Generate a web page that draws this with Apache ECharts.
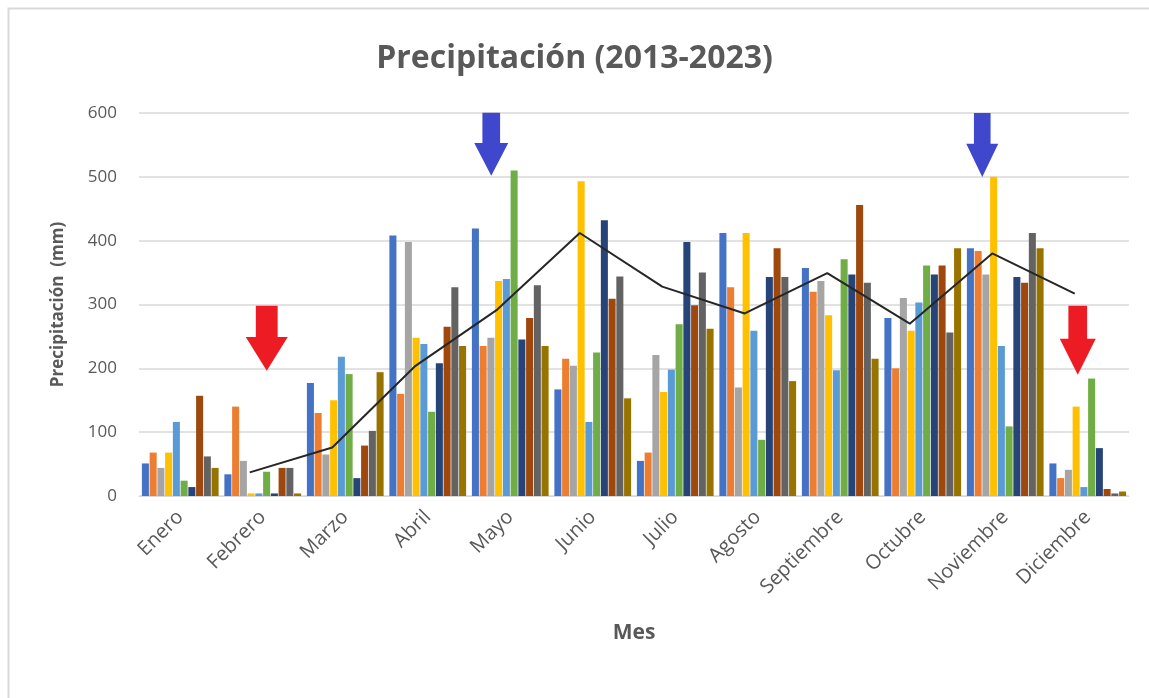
<!DOCTYPE html>
<html>
<head>
<meta charset="utf-8">
<script src="https://cdn.jsdelivr.net/npm/echarts@6/dist/echarts.min.js"></script>
<style>
  html, body { margin: 0; padding: 0; background: #fff; }
  #chart { width: 1149px; height: 698px; }
</style>
</head>
<body>
<div id="chart"></div>
<script>
const months = ['Enero', 'Febrero', 'Marzo', 'Abril', 'Mayo', 'Junio', 'Julio', 'Agosto', 'Septiembre', 'Octubre', 'Noviembre', 'Diciembre'];
const years = ['2013', '2014', '2015', '2016', '2017', '2018', '2019', '2020', '2021', '2022'];
const colors = ['#4472C4', '#ED7D31', '#A5A5A5', '#FFC000', '#5B9BD5', '#70AD47', '#264478', '#9E480E', '#636363', '#997300'];

// precipitation per year, one value per month (mm)
const p2013 = [51, 34, 177, 408, 419, 167, 55, 412, 357, 279, 388, 51];
const p2014 = [68, 140, 130, 160, 235, 215, 68, 327, 320, 200, 384, 28];
const p2015 = [44, 55, 65, 398, 248, 204, 221, 170, 337, 310, 347, 41];
const p2016 = [68, 4, 150, 248, 337, 493, 163, 412, 283, 259, 500, 140];
const p2017 = [116, 4, 218, 238, 340, 116, 198, 259, 197, 303, 235, 14];
const p2018 = [24, 38, 191, 132, 510, 225, 269, 88, 371, 361, 109, 184];
const p2019 = [14, 4, 28, 208, 245, 432, 398, 343, 347, 347, 343, 75];
const p2020 = [157, 44, 79, 265, 279, 309, 299, 388, 456, 361, 334, 11];
const p2021 = [62, 44, 102, 327, 330, 344, 350, 343, 334, 256, 412, 4];
const p2022 = [44, 4, 194, 235, 235, 153, 262, 180, 215, 388, 388, 7];
const yearValues = [p2013, p2014, p2015, p2016, p2017, p2018, p2019, p2020, p2021, p2022];

// trend line (no point for Enero)
const trend = [null, 37, 76, 203, 292, 412, 328, 286, 349, 270, 380, 317];

const yTicks = { min: 0, max: 600, interval: 100 };

const chart = echarts.init(document.getElementById('chart'));

const textColor = '#595959';
const font = 'Liberation Sans Narrow, Open Sans, sans-serif';

const downArrow = 'path://M24,0 L76,0 L76,48 L100,48 L50,100 L0,48 L24,48 Z';

const barSeries = years.map((y, i) => ({
  name: y,
  type: 'bar',
  data: yearValues[i],
  itemStyle: { color: colors[i] },
  barGap: '10%',
  barCategoryGap: '7%'
}));

const option = {
  animation: false,
  backgroundColor: '#fff',
  title: {
    text: 'Precipitación (2013-2023)',
    left: 'center',
    top: 38,
    textStyle: { fontFamily: font, fontSize: 32, fontWeight: 'bold', color: textColor }
  },
  graphic: [{
    type: 'rect',
    shape: { x: 8.5, y: 8.5, width: 1160, height: 720 },
    style: { fill: 'none', stroke: '#d9d9d9', lineWidth: 2 },
    silent: true,
    z: -1
  }],
  grid: [
    { left: 139, right: 20, top: 113, bottom: 202 },
    { left: 126, right: 33, top: 113, bottom: 202 }
  ],
  xAxis: [{
    type: 'category',
    data: months,
    gridIndex: 0,
    name: 'Mes',
    nameLocation: 'middle',
    nameGap: 127,
    nameTextStyle: { fontFamily: font, fontSize: 21, fontWeight: 'bold', color: textColor },
    axisLine: { lineStyle: { color: '#d9d9d9', width: 1 } },
    axisTick: { show: false },
    axisLabel: { rotate: 45, margin: 18, fontFamily: 'Open Sans, sans-serif', fontSize: 20, color: textColor }
  }, {
    type: 'category',
    data: months,
    gridIndex: 1,
    show: false
  }],
  yAxis: [{
    type: 'value',
    gridIndex: 0,
    min: yTicks.min,
    max: yTicks.max,
    interval: yTicks.interval,
    name: 'Precipitación  (mm)',
    nameLocation: 'middle',
    nameGap: 72,
    nameTextStyle: { fontFamily: 'Open Sans, sans-serif', fontSize: 17, fontWeight: 'bold', color: textColor },
    axisLine: { show: false },
    axisTick: { show: false },
    axisLabel: { margin: 22, fontFamily: 'Open Sans, sans-serif', fontSize: 17, color: textColor },
    splitLine: { lineStyle: { color: '#d9d9d9', width: 1.5 } }
  }, {
    type: 'value',
    gridIndex: 1,
    min: yTicks.min,
    max: yTicks.max,
    interval: yTicks.interval,
    show: false,
    splitLine: { show: false }
  }],
  series: barSeries.concat([{
    name: 'Promedio',
    type: 'line',
    xAxisIndex: 1,
    yAxisIndex: 1,
    data: trend,
    showSymbol: false,
    lineStyle: { color: '#262626', width: 2 },
    z: 5,
    markPoint: {
      silent: true,
      label: { show: false },
      data: [
        { coord: ['Febrero', 247], symbol: downArrow, symbolSize: [42, 65], symbolOffset: [17, 0], itemStyle: { color: '#ED1C24' } },
        { coord: ['Mayo', 551], symbol: downArrow, symbolSize: [34, 63], symbolOffset: [-6, 0], itemStyle: { color: '#3F48CC' } },
        { coord: ['Noviembre', 550], symbol: downArrow, symbolSize: [32, 64], symbolOffset: [-10, 0], itemStyle: { color: '#3F48CC' } },
        { coord: ['Diciembre', 244], symbol: downArrow, symbolSize: [36, 69], symbolOffset: [3, 0], itemStyle: { color: '#ED1C24' } }
      ]
    }
  }])
};

chart.setOption(option);
</script>
</body>
</html>
